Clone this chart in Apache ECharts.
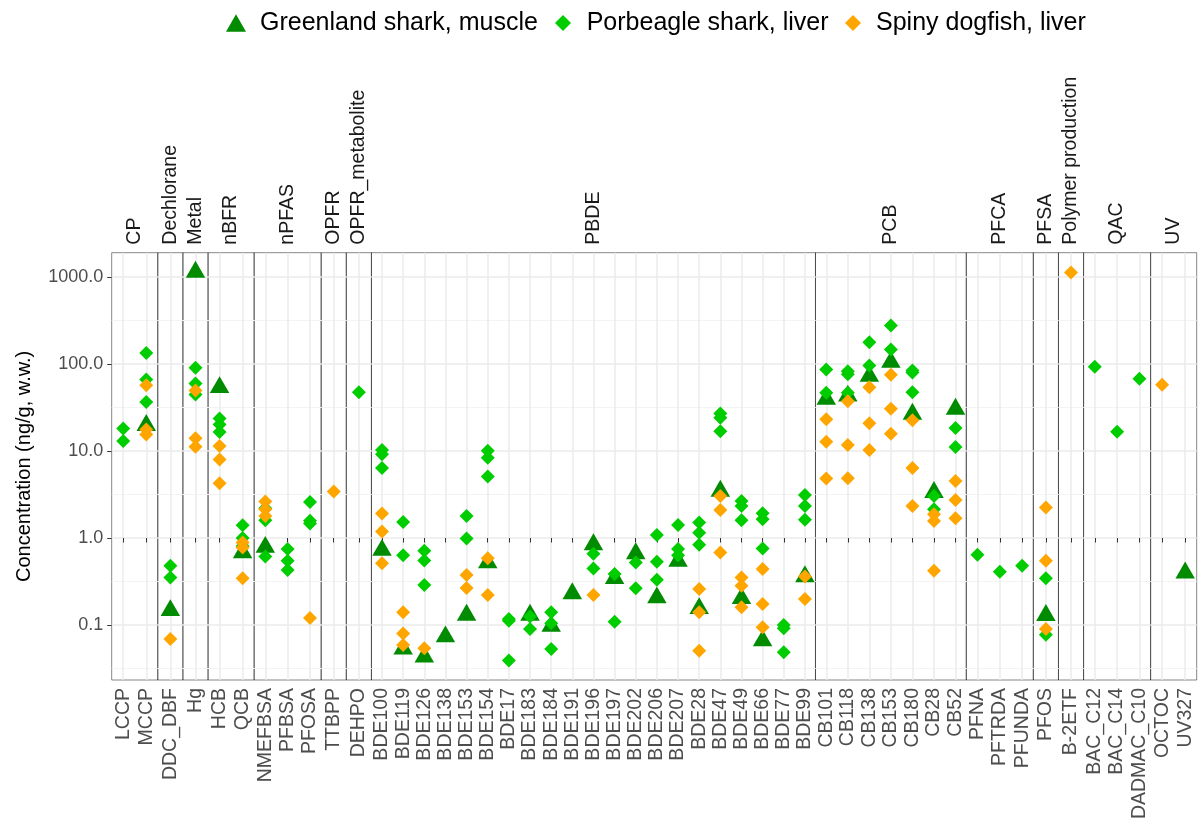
<!DOCTYPE html>
<html><head><meta charset="utf-8">
<script src="https://cdn.jsdelivr.net/npm/echarts@6/dist/echarts.min.js"></script>
<style>html,body{margin:0;padding:0;background:#fff}#chart{width:1200px;height:825px}</style>
</head><body><div id="chart"></div>
<script>
// ---------------- data ----------------
const groupNames = ['CP','Dechlorane','Metal','nBFR','nPFAS','OPFR','OPFR_metabolite','PBDE','PCB','PFCA','PFSA','Polymer production','QAC','UV'];
const groupSizes = [2,1,1,2,3,1,1,21,7,3,1,1,3,2];
const categories = ['LCCP','MCCP','DDC_DBF','Hg','HCB','QCB','NMEFBSA','PFBSA','PFOSA','TTBPP','DEHPO',
  'BDE100','BDE119','BDE126','BDE138','BDE153','BDE154','BDE17','BDE183','BDE184','BDE191','BDE196','BDE197','BDE202','BDE206','BDE207','BDE28','BDE47','BDE49','BDE66','BDE77','BDE99',
  'CB101','CB118','CB138','CB153','CB180','CB28','CB52','PFNA','PFTRDA','PFUNDA','PFOS','B-2ETF','BAC_C12','BAC_C14','DADMAC_C10','OCTOC','UV327'];
const seriesNames = ['Greenland shark, muscle','Porbeagle shark, liver','Spiny dogfish, liver'];
// one value (or null) per category
const greenlandMuscle = [null,19.7,0.147,1138,53.8,0.68,0.785,null,null,null,null,
  0.725,0.053,0.043,0.0734,0.130,0.52,null,0.130,0.097,0.230,0.84,0.343,0.663,0.206,0.542,0.155,3.47,0.202,0.066,null,0.361,
  39.5,43.0,72.4,105,26.6,3.35,30.3,null,null,null,0.129,null,null,null,null,null,0.398];
// several values per category
const porbeagleLiver = [[18.2,13.0],[134,66.4,36.5],[0.479,0.352],[90.4,59.7,44.7],[23.7,20.2,16.5],[1.40,1.0,0.81],[2.2,1.6,0.614],[0.745,0.547,0.428],[2.60,1.58,1.47],[],[47.5],
  [10.3,9.16,6.38],[1.53,0.635],[0.712,0.55,0.288],[],[1.79,0.985],[10.1,8.39,5.08],[0.117,0.112,0.039],[0.125,0.090],[0.14,0.105,0.053],[],[0.66,0.447],[0.385,0.109],[0.523,0.264],[1.086,0.535,0.331],[1.415,0.745,0.635],[1.51,1.15,0.834],[27.0,24.1,16.9],[2.67,2.34,1.60],[1.93,1.64,0.756],[0.100,0.092,0.0486],[3.13,2.34,1.62],
  [86.4,46.7],[82.6,76.0,46.7],[178,96.1],[277,146.7],[84.4,80,47.5],[3.04,2.14],[18.4,11.1],[0.641],[0.409],[0.479],[0.344,0.0774],[],[92.9],[16.7],[67.6],[],[]];
const spinyDogfishLiver = [[],[57.1,17.7,15.5],[0.069],[49.7,14.0,11.2],[11.4,8.0,4.26],[0.89,0.78,0.344],[2.63,2.14,1.79],[],[0.120],[3.42],[],
  [1.91,1.19,0.514],[0.140,0.080,0.059],[0.054],[],[0.375,0.266],[0.587,0.221],[],[],[],[],[0.221],[],[],[],[],[0.259,0.140,0.0507],[3.04,2.10,0.682],[0.352,0.282,0.160],[0.439,0.174,0.094],[],[0.362,0.199],
  [23.1,12.8,4.82],[37.4,11.7,4.85],[54.2,20.8,10.3],[75.2,30.6,15.8],[22.5,6.38,2.34],[1.87,1.57,0.42],[4.52,2.74,1.69],[],[],[],[2.24,0.547,0.090],[1130],[],[],[],[57.7],[]];
const yTitle = 'Concentration (ng/g, w.w.)';

// ---------------- layout / style ----------------
const FONT = 'Liberation Sans, Arial, Helvetica, sans-serif';
const PANEL_LEFT = 111.7, PANEL_RIGHT = 1196.7, PANEL_TOP = 252.7, PANEL_BOTTOM = 680;
const EXPAND = 0.6; // discrete expansion (category units) on each side of a facet
const COLORS = ['#008B00', '#00CD00', '#FFA500'];

const totalUnits = groupSizes.reduce((s, n) => s + n - 1 + 2 * EXPAND, 0);
const unit = (PANEL_RIGHT - PANEL_LEFT) / totalUnits;

// log10 y range with 5% expansion, like ggplot
const allVals = [];
greenlandMuscle.forEach(v => { if (v != null) allVals.push(v); });
porbeagleLiver.forEach(a => a.forEach(v => allVals.push(v)));
spinyDogfishLiver.forEach(a => a.forEach(v => allVals.push(v)));
const lo = Math.log10(Math.min(...allVals)), hi = Math.log10(Math.max(...allVals));
const pad = 0.05 * (hi - lo);
const yMin = lo - pad, yMax = hi + pad;
const decades = [];
for (let k = Math.ceil(yMin); k <= Math.floor(yMax); k++) decades.push(k);

const grids = [], xAxes = [], yAxes = [], series = [];
let catStart = 0, unitStart = 0;
groupSizes.forEach((n, g) => {
  const cats = categories.slice(catStart, catStart + n);
  const w = (n - 1 + 2 * EXPAND) * unit;
  grids.push({
    left: PANEL_LEFT + unitStart * unit, width: w,
    top: PANEL_TOP, height: PANEL_BOTTOM - PANEL_TOP,
    show: true, borderColor: 'rgba(0,0,0,0.47)', borderWidth: 1, backgroundColor: 'transparent',
    containLabel: false, outerBoundsMode: 'none'
  });
  xAxes.push({
    type: 'category', gridIndex: g, position: 'bottom', data: cats, boundaryGap: true,
    axisLine: { show: false },
    axisTick: { show: true, alignWithLabel: true, length: 4.5, lineStyle: { color: '#333', width: 1 } },
    axisLabel: { interval: 0, rotate: 90, margin: 8, fontSize: 19.5, color: '#4d4d4d', fontFamily: FONT },
    splitLine: { show: true, alignWithLabel: true, lineStyle: { color: '#EBEBEB', width: 1.5 } }
  });
  xAxes.push({
    type: 'category', gridIndex: g, position: 'top', data: [groupNames[g]], boundaryGap: true,
    axisLine: { show: false }, axisTick: { show: false }, splitLine: { show: false },
    axisLabel: { interval: 0, rotate: -90, margin: 8, fontSize: 19.5, color: '#1a1a1a', fontFamily: FONT }
  });
  yAxes.push({
    type: 'value', gridIndex: g, min: yMin, max: yMax, splitNumber: 5,
    axisLine: { show: false },
    axisTick: { show: g === 0, length: 4.5, customValues: decades, lineStyle: { color: '#333', width: 1 } },
    axisLabel: {
      show: g === 0, margin: 8.5, fontSize: 18, color: '#4d4d4d', fontFamily: FONT, customValues: decades,
      formatter: v => (Math.abs(v - Math.round(v)) < 1e-6 ? Math.pow(10, Math.round(v)).toFixed(1) : '')
    },
    splitLine: { show: true, lineStyle: { color: '#EBEBEB', width: 1.5 } },
    minorTick: { show: false, splitNumber: 2 },
    minorSplitLine: { show: true, lineStyle: { color: '#F3F3F3', width: 1 } },
    name: g === 0 ? yTitle : '', nameLocation: 'middle', nameGap: 77,
    nameTextStyle: { fontSize: 20, color: '#000', fontFamily: FONT }
  });
  const gData = [[], [], []];
  cats.forEach((c, k) => {
    const idx = catStart + k;
    if (greenlandMuscle[idx] != null) gData[0].push([c, Math.log10(greenlandMuscle[idx])]);
    porbeagleLiver[idx].forEach(v => gData[1].push([c, Math.log10(v)]));
    spinyDogfishLiver[idx].forEach(v => gData[2].push([c, Math.log10(v)]));
  });
  const common = { type: 'scatter', xAxisIndex: 2 * g, yAxisIndex: g, emphasis: { disabled: true }, silent: true };
  series.push(Object.assign({}, common, { name: seriesNames[0], data: gData[0], symbol: 'triangle', symbolSize: [19.5, 16.9], symbolOffset: [0, '-16.67%'], itemStyle: { color: COLORS[0], opacity: 1 }, z: 2 }));
  series.push(Object.assign({}, common, { name: seriesNames[1], data: gData[1], symbol: 'diamond', symbolSize: 14, itemStyle: { color: COLORS[1], opacity: 1 }, z: 3 }));
  series.push(Object.assign({}, common, { name: seriesNames[2], data: gData[2], symbol: 'diamond', symbolSize: 14, itemStyle: { color: COLORS[2], opacity: 1 }, z: 4 }));
  catStart += n; unitStart += n - 1 + 2 * EXPAND;
});

const legendText = (p) => ({ fontSize: 25, color: '#000', fontFamily: FONT, padding: [0, 0, 0, p] });
const legends = [
  { data: [seriesNames[0]], left: 226, top: 10.5, padding: 0, itemWidth: 20, itemHeight: 17.5, textStyle: legendText(9) },
  { data: [seriesNames[1]], left: 555, top: 10.5, padding: 0, itemWidth: 16, itemHeight: 16, textStyle: legendText(10.7) },
  { data: [seriesNames[2]], left: 845, top: 10.5, padding: 0, itemWidth: 16, itemHeight: 16, textStyle: legendText(10) }
];

const chart = echarts.init(document.getElementById('chart'), null, { renderer: 'canvas' });
chart.setOption({
  animation: false,
  backgroundColor: '#fff',
  textStyle: { fontFamily: FONT },
  legend: legends,
  grid: grids, xAxis: xAxes, yAxis: yAxes, series: series
});
</script></body></html>
